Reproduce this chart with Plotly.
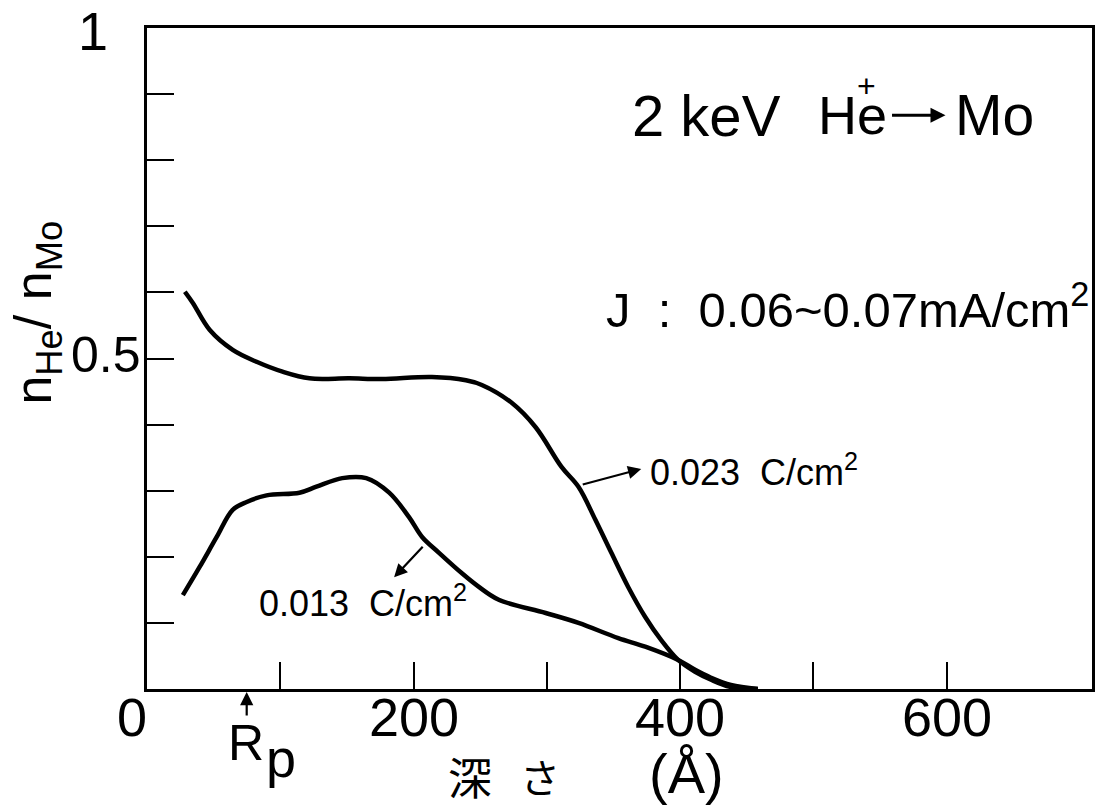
import plotly.graph_objects as go

# Upper curve: 0.023 C/cm^2
depth_hi = [28.4, 34.4, 47.1, 64.3, 82.2, 101.7, 121.9, 151.8, 176.4, 213.8, 239.3, 251.2,
            273.6, 291.6, 311.0, 323.7, 336.4, 348.4, 361.1, 373.8, 385.8, 398.5, 411.2,
            423.2, 438.1, 458.3]
ratio_hi = [0.601, 0.584, 0.543, 0.513, 0.495, 0.480, 0.470, 0.470, 0.469, 0.472, 0.467, 0.460,
            0.433, 0.396, 0.336, 0.306, 0.256, 0.206, 0.154, 0.109, 0.074, 0.044, 0.026,
            0.014, 0.003, 0.0]

# Lower curve: 0.013 C/cm^2
depth_lo = [26.9, 39.6, 52.3, 64.3, 74.8, 89.7, 114.4, 127.1, 146.5, 164.5, 181.7, 196.6,
            206.4, 219.1, 236.3, 248.0, 263.9, 299.1, 323.7, 353.6, 373.8, 398.5, 411.2,
            423.2, 438.1, 458.3]
ratio_lo = [0.142, 0.185, 0.230, 0.271, 0.283, 0.293, 0.297, 0.306, 0.319, 0.319, 0.297, 0.260,
            0.230, 0.206, 0.175, 0.156, 0.135, 0.115, 0.100, 0.077, 0.064, 0.044, 0.029,
            0.017, 0.006, 0.0]

x_ticks = [0, 100, 200, 300, 400, 500, 600]
x_label_vals = [0, 200, 400, 600]
x_label_text = ["0", "200", "400", "600"]
y_ticks = [0, 0.1, 0.2, 0.3, 0.4, 0.5, 0.6, 0.7, 0.8, 0.9, 1.0]
y_label_vals = [0.5, 1.0]
y_label_text = ["0.5", "1"]
rp_depth = 74.8

FONT = "Liberation Sans"
fig = go.Figure()
for xs, ys in [(depth_hi, ratio_hi), (depth_lo, ratio_lo)]:
    fig.add_trace(go.Scatter(x=xs, y=ys, mode="lines",
                             line=dict(color="black", width=4.5, shape="spline", smoothing=1.0),
                             showlegend=False, hoverinfo="skip"))

fig.update_layout(
    width=1103, height=810,
    margin=dict(l=147, r=8, t=28, b=121),
    paper_bgcolor="white", plot_bgcolor="white",
    font=dict(family=FONT, color="black", size=54),
    xaxis=dict(range=[0, 709], showline=True, linecolor="black", linewidth=2.5, mirror=True,
               ticks="inside", ticklen=27, tickwidth=2, tickcolor="black",
               tickvals=x_ticks, showticklabels=False, showgrid=False, zeroline=False),
    yaxis=dict(range=[0, 1], showline=True, linecolor="black", linewidth=2.5, mirror=True,
               ticks="inside", ticklen=27, tickwidth=2, tickcolor="black",
               tickvals=y_ticks, showticklabels=False, showgrid=False, zeroline=False),
)

ann = []
def txt(x, y, s, size, xanchor="center", yanchor="middle", family=FONT, xref="paper", yref="paper", **kw):
    ann.append(dict(x=x, y=y, xref=xref, yref=yref, text=s, showarrow=False,
                    xanchor=xanchor, yanchor=yanchor, font=dict(size=size, family=family, color="black"), **kw))

# tick labels (positioned through the axes)
for v, t in zip(x_label_vals, x_label_text):
    if v == 0:
        txt(-0.0158, -0.0424, t, 54)
    else:
        txt(v, -0.0424, t, 54, xref="x")
for v, t in zip(y_label_vals, y_label_text):
    if v == 1.0:
        txt(-0.057, v - 0.004, t, 54, yref="y")
    else:
        txt(-0.0042, v + 0.005, t, 50, xanchor="right", yref="y")

# y title
txt(-0.116, 0.570, "n<sub>He</sub>/ n<sub>Mo</sub>", 52, textangle=-90)
# title text
txt(0.673, 0.868, "2 keV", 58, xanchor="right")
txt(0.708, 0.868, "He", 54, xanchor="left")
txt(0.7616, 0.912, "+", 32)
txt(0.853, 0.868, "Mo", 57, xanchor="left")
ann.append(dict(x=0.845, y=0.868, xref="paper", yref="paper", ax=-55, ay=0, text="", showarrow=True,
                arrowhead=2, arrowsize=1.0, arrowwidth=3, arrowcolor="black"))
txt(0.9985, 0.580, "J  :  0.06~0.07mA/cm<sup>2</sup>", 49, xanchor="right")
txt(0.5306, 0.331, "0.023  C/cm<sup>2</sup>", 36, xanchor="left")
txt(0.116, 0.133, "0.013  C/cm<sup>2</sup>", 36, xanchor="left")
# Rp
txt(0.1044, -0.0817, "R", 50)
txt(0.1414, -0.105, "p", 54)
# x title
txt(0.342, -0.1316, "深", 44, family="Noto Sans CJK JP")
txt(0.4156, -0.1316, "さ", 40, family="Noto Sans CJK JP")
txt(0.5707, -0.128, "(Å)", 56)

# arrows
ann.append(dict(x=370.8, y=0.333, xref="x", yref="y", ax=-60, ay=16, text="", showarrow=True,
                arrowhead=2, arrowsize=1.2, arrowwidth=2.2, arrowcolor="black"))
ann.append(dict(x=185.4, y=0.169, xref="x", yref="y", ax=30, ay=-32, text="", showarrow=True,
                arrowhead=2, arrowsize=1.2, arrowwidth=2.2, arrowcolor="black"))
ann.append(dict(x=rp_depth, y=-0.0045, xref="x", yref="paper", ax=0, ay=25, text="", showarrow=True,
                arrowhead=2, arrowsize=1.2, arrowwidth=2.2, arrowcolor="black"))

fig.update_layout(annotations=ann)
fig.write_html("out.html")
